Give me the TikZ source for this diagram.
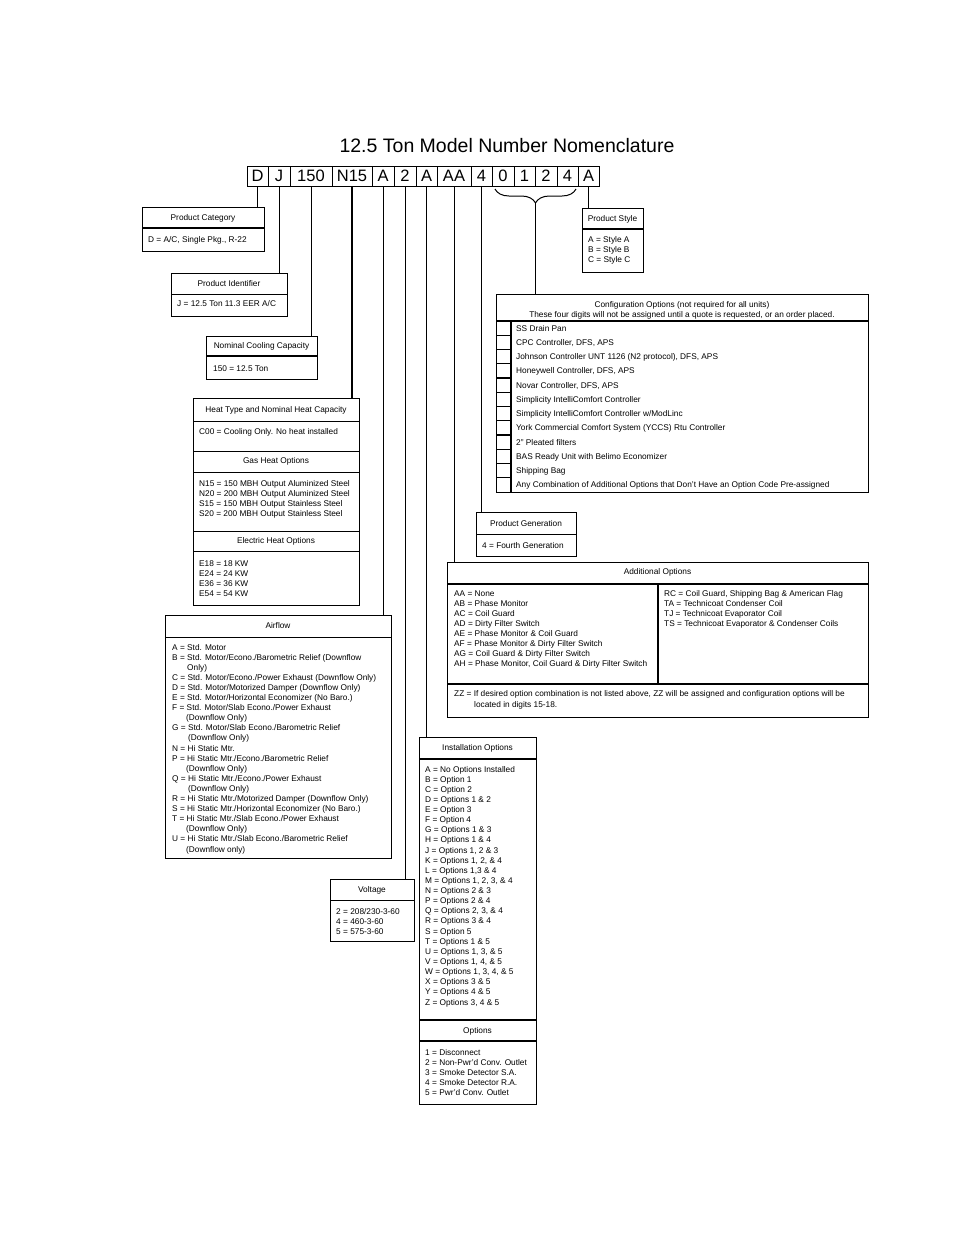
\documentclass[tikz,border=0pt]{standalone}
\usepackage{fontspec}
\setmainfont{Liberation Sans}
\usetikzlibrary{decorations.pathreplacing}
\newcommand\smf{\fontsize{8.3}{10}\selectfont}
\newcommand\mkbox[6]{\node[#6, minimum width={#4pt-#2pt}, minimum height={#5pt-#3pt}] (#1) at (#2,#3) {};}
\begin{document}
\begin{tikzpicture}[x=1pt,y=-1pt,
  bxn/.style={draw, line width=0.8pt, inner sep=0pt, anchor=north west},
  bxk/.style={draw, line width=1.3pt, inner sep=0pt, anchor=north west},
  dv/.style={line width=0.8pt},
  dvk/.style={line width=1.2pt},
  hd/.style={font=\smf, anchor=base, inner sep=0pt},
  tx/.style={font=\smf, anchor=base west, inner sep=0pt},
  cell/.style={draw, line width=1pt, minimum height=20pt, inner sep=0pt, font=\fontsize{16.5}{18}\selectfont, text height=11.8pt, text depth=0pt},
  ldn/.style={line width=0.8pt},
  ldk/.style={line width=1.6pt},
  brc/.style={line width=1pt, decorate, decoration={brace, mirror, amplitude=14pt}},
]
\fill[white] (0,0) rectangle (954,1235);
\useasboundingbox (0,0) rectangle (954,1235);

% title
\node[font=\fontsize{19.5}{22}\selectfont, anchor=base, inner sep=0pt] (title) at (507,152) {12.5 Ton Model Number Nomenclature};

% model number cells
\foreach \a/\b/\t [count=\i] in {247/268/D, 268/290/J, 290/332/150, 332/372/N15, 372/394/A, 394/416/2, 416/437/A, 437/471/AA, 471/492/4, 492/514/0, 514/535/1, 535/557/2, 557/578/4, 578/599/A}
  \node[cell, minimum width={(\b-\a)*1pt}] (c\i) at ({(\a+\b)/2},176) {\t};

% boxes
\mkbox{pc}{142}{207}{264}{251}{bxk}
\mkbox{pi}{171}{273}{287}{316}{bxn}
\mkbox{ncc}{206}{336}{317}{379}{bxk}
\mkbox{ht}{193}{398}{359}{605}{bxk}
\mkbox{af}{165}{615}{391}{858}{bxn}
\mkbox{vo}{330}{879}{414}{941}{bxn}
\mkbox{io}{419}{737}{536}{1104}{bxk}
\mkbox{ao}{447}{562}{868}{717}{bxk}
\mkbox{pg}{476}{512}{576}{556}{bxn}
\mkbox{co}{496}{294}{868}{492}{bxk}
\mkbox{ps}{582}{208}{643}{272}{bxk}

% dividers
\draw[dvk] (142,228) -- (264,228);
\draw[dv] (171,294) -- (287,294);
\draw[dvk] (206,356) -- (317,356);
\foreach \y in {421,451,472,531,551} \draw[dv] (193,\y) -- (359,\y);
\draw[dv] (165,637) -- (391,637);
\draw[dv] (330,900) -- (414,900);
\foreach \y in {759,1020,1041} \draw[dvk] (419,\y) -- (536,\y);
\draw[dvk] (447,584) -- (868,584);
\draw[dvk] (447,684) -- (868,684);
\draw[dvk] (658,584) -- (658,684);
\draw[dv] (476,534) -- (576,534);
\draw[dvk] (496,321) -- (868,321);
\draw[dvk] (511,321) -- (511,492);
\foreach \k in {1,...,11} \draw[dvk] (496,{321+14.25*\k}) -- (511,{321+14.25*\k});
\draw[dvk] (582,229) -- (643,229);

% leaders
\draw[ldk] (c1.south) -- (c1.south |- pc.north);
\draw[ldn] (c2.south) -- (c2.south |- pi.north);
\draw[ldn] (c3.south) -- (c3.south |- ncc.north);
\draw[ldk] (c4.south) -- (c4.south |- ht.north);
\draw[ldn] (c5.south) -- (c5.south |- af.north);
\draw[ldn] (c6.south) -- (c6.south |- vo.north);
\draw[ldn] (c7.south) -- (c7.south |- io.north);
\draw[ldn] (c8.south) -- (c8.south |- ao.north);
\draw[ldn] (c9.south) -- (c9.south |- pg.north);
\coordinate (bL) at (495,189);
\coordinate (bR) at (576,189);
\draw[brc] (bL) -- (bR);
\coordinate (bt) at (535.5,203);
\draw[ldk] (bt) -- (bt |- co.north);
\draw[ldk] (c14.south) -- (c14.south |- ps.north);

% product category
\node[hd] (pch) at (203,220) {Product Category};
\node[tx] (pct) at (148,242) {D = A/C, Single Pkg., R-22};
% product identifier
\node[hd] (pih) at (229,286) {Product Identifier};
\node[tx] (pit) at (177,306) {J = 12.5 Ton 11.3 EER A/C};
% nominal cooling
\node[hd] (ncch) at (261.5,348) {Nominal Cooling Capacity};
\node[tx] (ncct) at (213,371) {150 = 12.5 Ton};
% product style
\node[hd] (psh) at (612.5,221) {Product Style};
\foreach \t [count=\i] in {{A = Style A},{B = Style B},{C = Style C}}
  \node[tx] (ps\i) at (588,{242+10*(\i-1)}) {\t};
% configuration options
\node[hd] (coh1) at (682,307) {Configuration Options (not required for all units)};
\node[hd] (coh2) at (682,317) {These four digits will not be assigned until a quote is requested, or an order placed.};
\foreach \t [count=\i] in {{SS Drain Pan},{CPC Controller, DFS, APS},{Johnson Controller UNT 1126 (N2 protocol), DFS, APS},{Honeywell Controller, DFS, APS},{Novar Controller, DFS, APS},{Simplicity IntelliComfort Controller},{Simplicity IntelliComfort Controller w/ModLinc},{York Commercial Comfort System (YCCS) Rtu Controller},{2" Pleated filters},{BAS Ready Unit with Belimo Economizer},{Shipping Bag},{Any Combination of Additional Options that Don't Have an Option Code Pre-assigned}}
  \node[tx] (co\i) at (516,{331+14.25*(\i-1)}) {\t};
% heat type
\node[hd] (hth) at (276,412) {Heat Type and Nominal Heat Capacity};
\node[tx] (htc) at (199,434) {C00 = Cooling Only. No heat installed};
\node[hd] (htg) at (276,463) {Gas Heat Options};
\foreach \t [count=\i] in {{N15 = 150 MBH Output Aluminized Steel},{N20 = 200 MBH Output Aluminized Steel},{S15 = 150 MBH Output Stainless Steel},{S20 = 200 MBH Output Stainless Steel}}
  \node[tx] (htg\i) at (199,{486+10*(\i-1)}) {\t};
\node[hd] (hte) at (276,543) {Electric Heat Options};
\foreach \t [count=\i] in {{E18 = 18 KW},{E24 = 24 KW},{E36 = 36 KW},{E54 = 54 KW}}
  \node[tx] (hte\i) at (199,{566+10*(\i-1)}) {\t};
% airflow
\node[hd] (afh) at (278,628) {Airflow};
\foreach \t [count=\i] in {{A = Std. Motor},{B = Std. Motor/Econo./Barometric Relief (Downflow},{\hspace*{15pt}Only)},{C = Std. Motor/Econo./Power Exhaust (Downflow Only)},{D = Std. Motor/Motorized Damper (Downflow Only)},{E = Std. Motor/Horizontal Economizer (No Baro.)},{F = Std. Motor/Slab Econo./Power Exhaust},{\hspace*{14pt}(Downflow Only)},{G = Std. Motor/Slab Econo./Barometric Relief},{\hspace*{16pt}(Downflow Only)},{N = Hi Static Mtr.},{P = Hi Static Mtr./Econo./Barometric Relief},{\hspace*{14pt}(Downflow Only)},{Q = Hi Static Mtr./Econo./Power Exhaust},{\hspace*{16pt}(Downflow Only)},{R = Hi Static Mtr./Motorized Damper (Downflow Only)},{S = Hi Static Mtr./Horizontal Economizer (No Baro.)},{T = Hi Static Mtr./Slab Econo./Power Exhaust},{\hspace*{14pt}(Downflow Only)},{U = Hi Static Mtr./Slab Econo./Barometric Relief},{\hspace*{14pt}(Downflow only)}}
  \node[tx] (af\i) at (172,{650+10.1*(\i-1)}) {\t};
% voltage
\node[hd] (voh) at (372,892) {Voltage};
\foreach \t [count=\i] in {{2 = 208/230-3-60},{4 = 460-3-60},{5 = 575-3-60}}
  \node[tx] (vo\i) at (336,{914+10*(\i-1)}) {\t};
% installation options
\node[hd] (ioh) at (477.5,750) {Installation Options};
\foreach \t [count=\i] in {{A = No Options Installed},{B = Option 1},{C = Option 2},{D = Options 1 \& 2},{E = Option 3},{F = Option 4},{G = Options 1 \& 3},{H = Options 1 \& 4},{J = Options 1, 2 \& 3},{K = Options 1, 2, \& 4},{L = Options 1,3 \& 4},{M = Options 1, 2, 3, \& 4},{N = Options 2 \& 3},{P = Options 2 \& 4},{Q = Options 2, 3, \& 4},{R = Options 3 \& 4},{S = Option 5},{T = Options 1 \& 5},{U = Options 1, 3, \& 5},{V = Options 1, 4, \& 5},{W = Options 1, 3, 4, \& 5},{X = Options 3 \& 5},{Y = Options 4 \& 5},{Z = Options 3, 4 \& 5}}
  \node[tx] (io\i) at (425,{772+10.13*(\i-1)}) {\t};
\node[hd] (oph) at (477.5,1033) {Options};
\foreach \t [count=\i] in {{1 = Disconnect},{2 = Non-Pwr'd Conv. Outlet},{3 = Smoke Detector S.A.},{4 = Smoke Detector R.A.},{5 = Pwr'd Conv. Outlet}}
  \node[tx] (op\i) at (425,{1055+10.2*(\i-1)}) {\t};
% additional options
\node[hd] (aoh) at (657.5,574) {Additional Options};
\foreach \t [count=\i] in {{AA = None},{AB = Phase Monitor},{AC = Coil Guard},{AD = Dirty Filter Switch},{AE = Phase Monitor \& Coil Guard},{AF = Phase Monitor \& Dirty Filter Switch},{AG = Coil Guard \& Dirty Filter Switch},{AH = Phase Monitor, Coil Guard \& Dirty Filter Switch}}
  \node[tx] (aol\i) at (454,{596+10.14*(\i-1)}) {\t};
\foreach \t [count=\i] in {{RC = Coil Guard, Shipping Bag \& American Flag},{TA = Technicoat Condenser Coil},{TJ = Technicoat Evaporator Coil},{TS = Technicoat Evaporator \& Condenser Coils}}
  \node[tx] (aor\i) at (664,{596+10.3*(\i-1)}) {\t};
\node[tx] (aoz1) at (454,696) {ZZ = If desired option combination is not listed above, ZZ will be assigned and configuration options will be};
\node[tx] (aoz2) at (474,707) {located in digits 15-18.};
% product generation
\node[hd] (pgh) at (526,526) {Product Generation};
\node[tx] (pgt) at (482,548) {4 = Fourth Generation};
\end{tikzpicture}
\end{document}
